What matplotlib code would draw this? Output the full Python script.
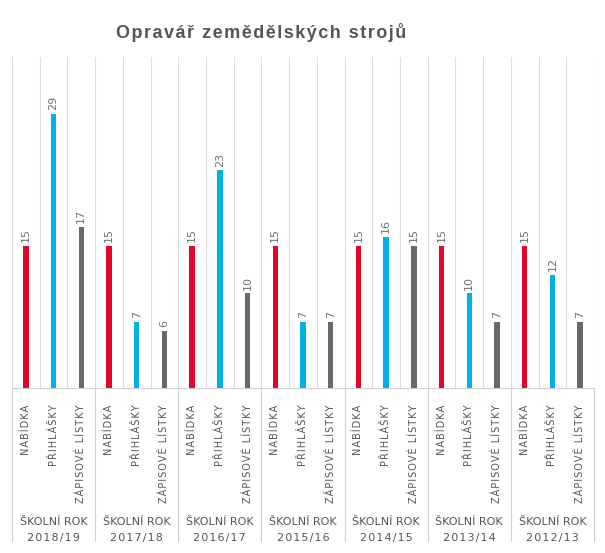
import matplotlib
matplotlib.use("Agg")
import matplotlib.pyplot as plt
import matplotlib.transforms as mtransforms
import numpy as np

title = "Opravář zemědělských strojů"
years = ["2018/19", "2017/18", "2016/17", "2015/16", "2014/15", "2013/14", "2012/13"]
categories = ["NABÍDKA", "PŘIHLÁŠKY", "ZÁPISOVÉ LÍSTKY"]
nabidka = [15, 15, 15, 15, 15, 15, 15]
prihlasky = [29, 7, 23, 7, 16, 10, 12]
zapisove = [17, 6, 10, 7, 15, 7, 7]
colors = ["#E2062C", "#00B0E6", "#686868"]

series = [nabidka, prihlasky, zapisove]
n_groups = len(years)
n_cat = len(categories)

fig = plt.figure(figsize=(6.05, 5.53), dpi=100)
ax = fig.add_axes([12/605, (553-388)/553, (594-12)/605, (388-57)/553])

xs, vals, cols, labels = [], [], [], []
for g in range(n_groups):
    for c in range(n_cat):
        xs.append(g*n_cat + c)
        vals.append(series[c][g])
        cols.append(colors[c])
        labels.append(categories[c])

ax.bar(xs, vals, width=0.2, color=cols, zorder=3)
for x, v in zip(xs, vals):
    ax.text(x, v + 0.4, str(v), rotation=90, ha="center", va="bottom",
            fontsize=8, color="#707070", family="DejaVu Sans")

ax.set_xlim(-0.5, n_groups*n_cat - 0.5)
ax.set_ylim(0, 35)
ax.set_yticks([])
ax.set_xticks(np.arange(-0.5, n_groups*n_cat, 1.0), minor=True)
ax.grid(True, which="minor", axis="x", color="#dcdcdc", linewidth=0.8, zorder=0)
ax.set_xticks(xs)
def spaced(s):
    return "\u200a".join(s)
ax.set_xticklabels([spaced(l) for l in labels], rotation=90, va="top", ha="center",
                   fontsize=7, color="#555555", family="DejaVu Sans")
ax.tick_params(axis="x", which="both", length=0, pad=12)
for s in ["top", "right", "left"]:
    ax.spines[s].set_visible(False)
ax.spines["bottom"].set_color("#d0d0d0")
ax.spines["bottom"].set_linewidth(0.8)

trans = mtransforms.blended_transform_factory(ax.transData, ax.transAxes)
axh = (388-57)
for g in range(n_groups + 1):
    xb = g*n_cat - 0.5
    ax.plot([xb, xb], [0, -(541-388)/axh], transform=trans, color="#d0d0d0",
            linewidth=0.8, clip_on=False)
for g, y in enumerate(years):
    xc = g*n_cat + 1
    ax.text(xc, -(522-388)/axh, "ŠKOLNÍ ROK", transform=trans, ha="center", va="center",
            fontsize=8, color="#555555", family="DejaVu Sans")
    ax.text(xc, -(538-388)/axh, spaced(y), transform=trans, ha="center", va="center",
            fontsize=8, color="#555555", family="DejaVu Sans")

fig.text(261/605, 1 - 33/553, "\u200a".join(title), ha="center", va="center", fontsize=13,
         fontweight="bold", color="#555555", family=["Liberation Sans", "DejaVu Sans"])

fig.savefig("out.png", dpi=100)
